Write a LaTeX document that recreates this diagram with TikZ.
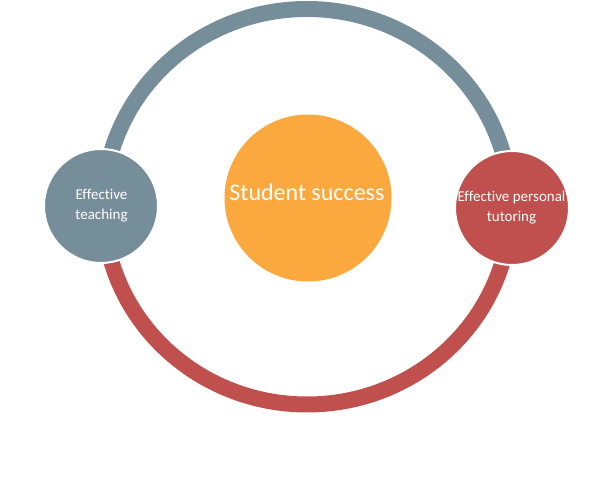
\documentclass[tikz,border=0pt]{standalone}
\usepackage{fontspec}
\setmainfont{Carlito}[Ligatures={NoCommon}]
\definecolor{slate}{HTML}{768E9A}
\definecolor{brick}{HTML}{C0504D}
\definecolor{amber}{HTML}{FBA93F}
\begin{document}
\begin{tikzpicture}[x=1pt,y=1pt,
  ringarc/.style={line width=16pt},
  sidecircle/.style={circle,draw=white,line width=2pt,minimum size=114pt,inner sep=0pt},
  hubcircle/.style={circle,fill=amber,minimum size=167pt,inner sep=0pt},
  sidelabel/.style={text=white,font=\fontsize{15}{20}\selectfont,align=center},
  hublabel/.style={text=white,font=\fontsize{24}{28}\selectfont}]
\useasboundingbox (0,0) rectangle (600,503);
% cycle ring: slate upper half, brick lower half
\coordinate (ringc) at (307,296.25);
\draw[ringarc,slate] (ringc) ++(-203.5,0) arc[start angle=180,end angle=0,x radius=203.5,y radius=197.75];
\draw[ringarc,brick] (ringc) ++(203.5,0) arc[start angle=0,end angle=-180,x radius=203.5,y radius=197.75];
% central goal
\node[hubcircle] (hub) at (308,305) {};
\node[hublabel,anchor=base] (hubtext) at (307,302) {Student success};
% the two contributing factors
\node[sidecircle,fill=slate] (teach) at (101,297) {};
\node[sidelabel] (teachtext) at (101.5,297.5) {Effective\\teaching};
\node[sidecircle,fill=brick] (tutor) at (512,295) {};
\node[sidelabel] (tutortext) at (511.5,295.5) {Effective personal\\tutoring};
\end{tikzpicture}
\end{document}
